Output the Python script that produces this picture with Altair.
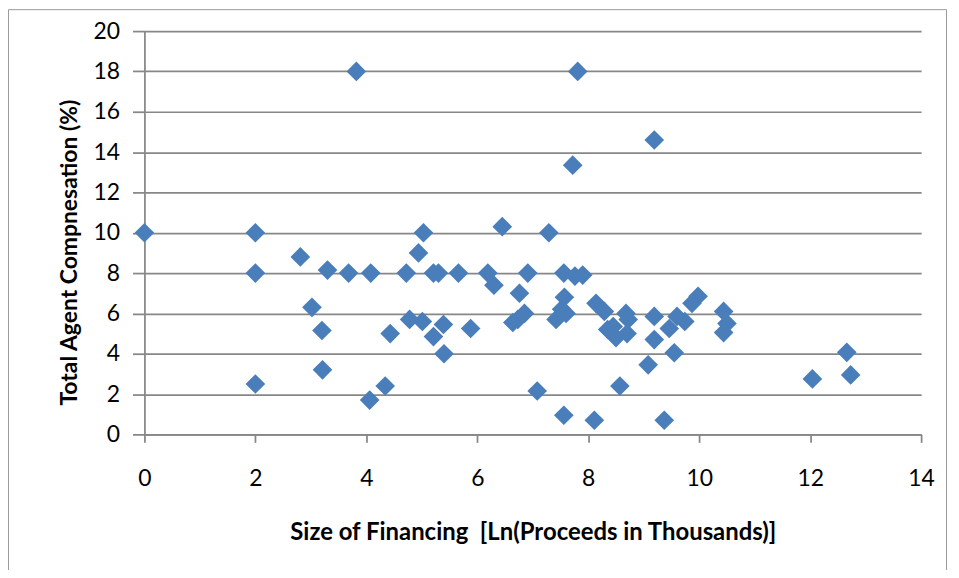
import altair as alt
import pandas as pd

# Size of financing (ln of proceeds in thousands)
size_ln = [
    0.00, 2.00, 2.00, 2.00, 2.81, 3.02, 3.20, 3.21, 3.30, 3.68,
    3.82, 4.08, 4.06, 4.34, 4.43, 4.72, 4.78, 4.94, 5.01, 5.03,
    5.21, 5.30, 5.21, 5.39, 5.40, 5.66, 5.88, 6.19, 6.30, 6.45,
    6.64, 6.73, 6.76, 6.85, 6.91, 7.08, 7.29, 7.42, 7.57, 7.52,
    7.60, 7.56, 7.56, 7.72, 7.76, 7.90, 7.81, 8.11, 8.14, 8.29,
    8.35, 8.50, 8.45, 8.68, 8.72, 8.70, 8.57, 9.08, 9.19, 9.19,
    9.19, 9.37, 9.46, 9.55, 9.60, 9.74, 9.87, 9.98, 10.44, 10.50,
    10.44, 12.04, 12.66, 12.73,
]
# Total agent compensation (%)
compensation = [
    10.0, 10.0, 8.0, 2.5, 8.8, 6.3, 5.15, 3.2, 8.15, 8.0,
    18.0, 8.0, 1.7, 2.4, 5.0, 8.0, 5.7, 9.0, 5.6, 10.0,
    8.0, 8.0, 4.85, 5.45, 4.0, 8.0, 5.25, 8.0, 7.4, 10.3,
    5.55, 5.7, 7.0, 6.0, 8.0, 2.15, 10.0, 5.7, 6.8, 6.2,
    6.0, 8.0, 0.95, 13.35, 7.85, 7.9, 18.0, 0.7, 6.5, 6.1,
    5.2, 4.8, 5.35, 6.0, 5.7, 5.0, 2.4, 3.45, 5.85, 4.7,
    14.6, 0.7, 5.25, 4.05, 5.85, 5.6, 6.5, 6.85, 6.1, 5.5,
    5.05, 2.75, 4.07, 2.95,
]

x_ticks = [0, 2, 4, 6, 8, 10, 12, 14]
y_ticks = [0, 2, 4, 6, 8, 10, 12, 14, 16, 18, 20]

df = pd.DataFrame({"size": size_ln, "comp": compensation})

FONT = "Lato"
GRID = "#878787"

points = alt.Chart(df).mark_point(
    shape="diamond", filled=True, size=390, color="#4A7EBB", opacity=1
).encode(
    x=alt.X(
        "size:Q",
        scale=alt.Scale(domain=[0, 14], nice=False, zero=False),
        axis=alt.Axis(
            values=x_ticks,
            title="Size of Financing\u00a0 [Ln(Proceeds in Thousands)]",
            grid=False,
            tickSize=8,
            labelPadding=25,
            titlePadding=31,
            labelFontSize=23,
            titleFontSize=24,
            labelFlush=False,
        ),
    ),
    y=alt.Y(
        "comp:Q",
        scale=alt.Scale(domain=[0, 20], nice=False),
        axis=alt.Axis(
            values=y_ticks,
            title="Total Agent Compnesation (%)",
            grid=True,
            tickSize=12,
            labelPadding=13,
            titlePadding=12,
            titleY=222,
            labelFontSize=23,
            titleFontSize=23,
            labelFlush=False,
        ),
    ),
)

frame = alt.Chart(pd.DataFrame({"a": [0]})).mark_rect(
    filled=False, stroke="#9a9a9a", strokeWidth=1
).encode(
    x=alt.value(-136.5), x2=alt.value(805.5), y=alt.value(-21.5), y2=alt.value(600)
)

chart = (
    alt.layer(frame, points)
    .properties(
        width=780,
        height=405,
        padding={"left": 137, "top": 22, "right": 30, "bottom": 135},
        autosize=alt.AutoSizeParams(type="none"),
        background="white",
    )
    .configure_view(stroke=None)
    .configure_axis(
        labelFont=FONT,
        titleFont=FONT,
        labelColor="#000000",
        titleColor="#000000",
        titleFontWeight="bold",
        labelFontWeight="normal",
        domainColor=GRID,
        domainWidth=1.75,
        tickColor=GRID,
        tickWidth=1.75,
        gridColor=GRID,
        gridWidth=1.75,
        gridOpacity=1,
    )
)

chart.save("out.html", embed_options={"renderer": "svg", "actions": False})
